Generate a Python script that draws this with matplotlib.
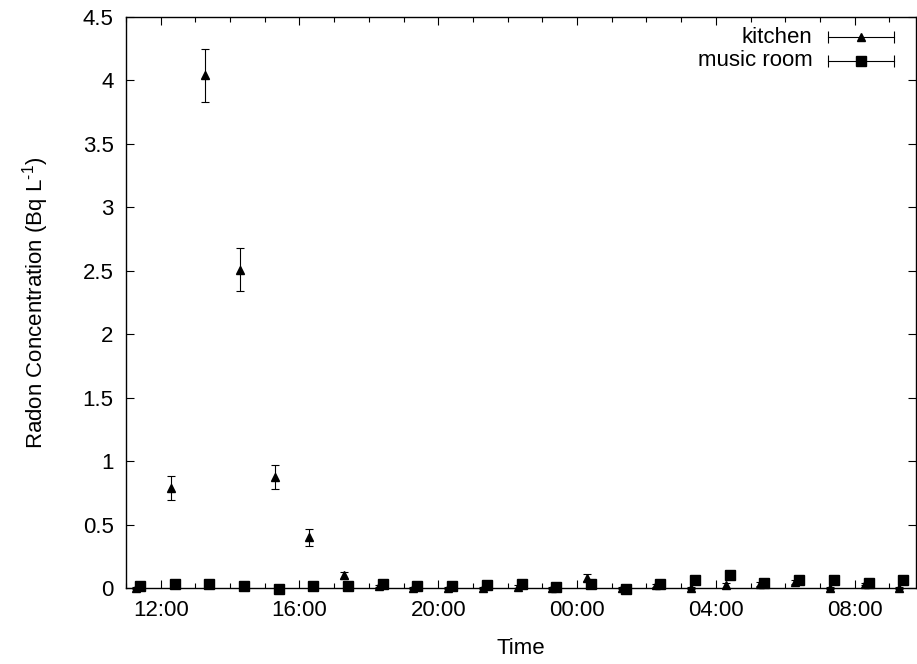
#!/usr/bin/env python3
import numpy as np
import pandas as pd
import matplotlib
matplotlib.use('Agg')
import matplotlib.pyplot as plt
import matplotlib.dates as mdates

plt.rcParams['font.family'] = ['Liberation Sans', 'DejaVu Sans']
plt.rcParams['font.size'] = 16
plt.rcParams['mathtext.fontset'] = 'custom'
plt.rcParams['mathtext.rm'] = 'Liberation Sans'

# kitchen readings (time, Bq/L, error)
kitchen_time = [
	'2010-01-01 11:17', '2010-01-01 12:17', '2010-01-01 13:17', '2010-01-01 14:17',
	'2010-01-01 15:17', '2010-01-01 16:17', '2010-01-01 17:17', '2010-01-01 18:17',
	'2010-01-01 19:17', '2010-01-01 20:17', '2010-01-01 21:17', '2010-01-01 22:17',
	'2010-01-01 23:17', '2010-01-02 00:17', '2010-01-02 01:17', '2010-01-02 02:17',
	'2010-01-02 03:17', '2010-01-02 04:17', '2010-01-02 05:17', '2010-01-02 06:17',
	'2010-01-02 07:17', '2010-01-02 08:17', '2010-01-02 09:17',
]
kitchen_val = [0.0, 0.785, 4.04, 2.51, 0.876, 0.398, 0.10, 0.015,
	0.0, 0.0, 0.0, 0.01, 0.0, 0.08, 0.0, 0.02,
	0.0, 0.02, 0.03, 0.045, 0.0, 0.03, 0.0]
kitchen_err = [0.01, 0.094, 0.21, 0.167, 0.097, 0.066, 0.03, 0.01,
	0.01, 0.01, 0.01, 0.01, 0.01, 0.027, 0.01, 0.01,
	0.01, 0.02, 0.015, 0.015, 0.01, 0.01, 0.01]

# music room readings
music_time = [
	'2010-01-01 11:24', '2010-01-01 12:24', '2010-01-01 13:24', '2010-01-01 14:24',
	'2010-01-01 15:24', '2010-01-01 16:24', '2010-01-01 17:24', '2010-01-01 18:24',
	'2010-01-01 19:24', '2010-01-01 20:24', '2010-01-01 21:24', '2010-01-01 22:24',
	'2010-01-01 23:24', '2010-01-02 00:24', '2010-01-02 01:24', '2010-01-02 02:24',
	'2010-01-02 03:24', '2010-01-02 04:24', '2010-01-02 05:24', '2010-01-02 06:24',
	'2010-01-02 07:24', '2010-01-02 08:24', '2010-01-02 09:24',
]
music_val = [0.013, 0.03, 0.03, 0.013, -0.005, 0.013, 0.013, 0.03,
	0.013, 0.013, 0.02, 0.035, 0.01, 0.035, -0.005, 0.035,
	0.066, 0.105, 0.042, 0.06, 0.06, 0.042, 0.06]
music_err = [0.01] * 23

x_start = '2010-01-01 11:00'
x_end = '2010-01-02 09:46'

kt = pd.to_datetime(kitchen_time)
mt = pd.to_datetime(music_time)

fig = plt.figure(figsize=(9.17, 6.64), dpi=100)
ax = fig.add_axes([126/917, 76/664, 790/917, 571/664])

ax.errorbar(kt, kitchen_val, yerr=kitchen_err, fmt='^', color='black',
	ms=6, elinewidth=0.8, capsize=3, capthick=0.8, clip_on=False, zorder=3)
ax.errorbar(mt, music_val, yerr=music_err, fmt='s', color='black',
	ms=6.5, elinewidth=0.8, capsize=3, capthick=0.8, clip_on=False, zorder=4)

ax.set_xlim(pd.Timestamp(x_start), pd.Timestamp(x_end))
ax.set_ylim(0, 4.5)
ax.set_yticks(np.arange(0, 4.51, 0.5))
ax.set_yticklabels(['0', '0.5', '1', '1.5', '2', '2.5', '3', '3.5', '4', '4.5'])

ax.xaxis.set_major_locator(mdates.HourLocator(byhour=[0, 4, 8, 12, 16, 20]))
ax.xaxis.set_minor_locator(mdates.HourLocator())
ax.xaxis.set_major_formatter(mdates.DateFormatter('%H:%M'))

ax.tick_params(which='both', direction='in', top=True, right=True, width=0.8)
ax.tick_params(which='major', length=6, pad=9)
ax.tick_params(which='minor', length=3.5)
for s in ax.spines.values():
	s.set_linewidth(1.0)

ax.set_xlabel('Time', labelpad=12)
ax.set_ylabel('Radon Concentration (Bq L$^{\\text{-1}}$)', labelpad=23)

# gnuplot style key, top right
def key_entry(y, label, marker):
	ax.text(0.869, y, label, transform=ax.transAxes, ha='right', va='center')
	ax.plot([0.889, 0.9725], [y, y], color='black', lw=0.8, marker='|', ms=8,
		mew=0.8, transform=ax.transAxes, clip_on=False)
	ax.plot([0.931], [y], color='black', marker=marker, ms=6.5 if marker == 's' else 5.5,
		transform=ax.transAxes, clip_on=False)

key_entry(0.9645, 'kitchen', '^')
key_entry(0.923, 'music room', 's')

fig.savefig('out.png', dpi=100)
